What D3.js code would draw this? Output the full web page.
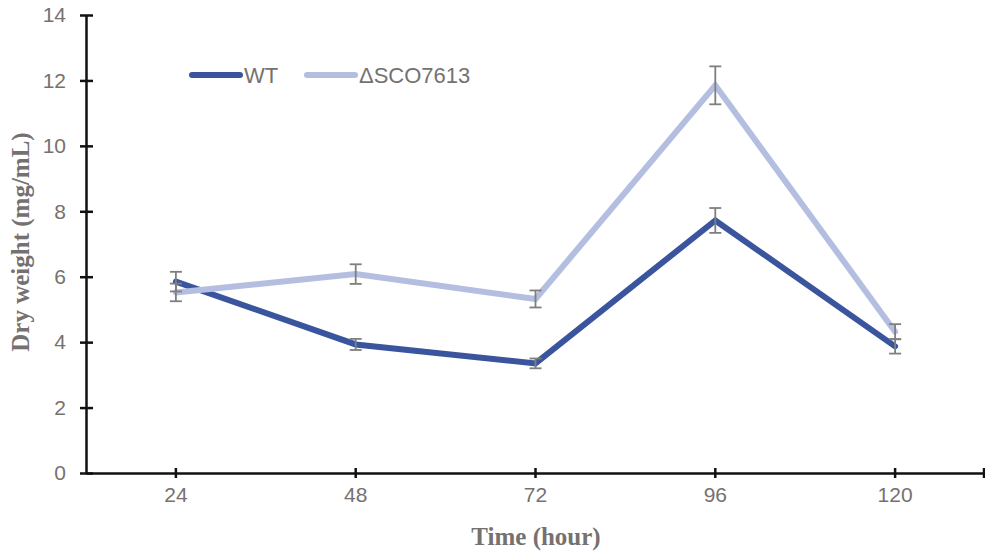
<!DOCTYPE html>
<html><head><meta charset="utf-8">
<script src="https://cdn.jsdelivr.net/npm/d3@7"></script>
<style>body{margin:0;background:#fff}</style>
</head><body>
<svg id="c" width="985" height="552"></svg>
<script>
const categories = ["24","48","72","96","120"];
const wtValues = [5.85, 3.93, 3.35, 7.72, 3.87];
const wtErrors = [0.30, 0.17, 0.15, 0.38, 0.22];
const mutValues = [5.52, 6.08, 5.32, 11.85, 4.32];
const mutErrors = [0.27, 0.30, 0.26, 0.58, 0.23];
const yTicks = [0,2,4,6,8,10,12,14];
const seriesNames = ["WT", "\u0394SCO7613"];

(function(){
const svg = d3.select("#c");
const mLeft = 86, mRight = 985, mTop = 15, mBottom = 473;
const x = d3.scaleBand().domain(categories).range([mLeft, mRight]).padding(0);
const y = d3.scaleLinear().domain([0,14]).range([mBottom, mTop]);
const cx = d => x(d) + x.bandwidth()/2;

const colors = ["#3A559D", "#B4BEE0"];
const series = [
  {name: seriesNames[0], values: wtValues, errors: wtErrors, color: colors[0]},
  {name: seriesNames[1], values: mutValues, errors: mutErrors, color: colors[1]}
];

// Y axis
const yAxis = svg.append("g").attr("transform", `translate(${mLeft},0)`)
  .call(d3.axisLeft(y).tickValues(yTicks).tickSize(0).tickPadding(20));
yAxis.select(".domain").attr("stroke", "#111").attr("stroke-width", 2.5);
yAxis.selectAll(".tick line").attr("x1", -6).attr("x2", 7).attr("stroke", "#111").attr("stroke-width", 2.5);
yAxis.selectAll(".tick text").attr("fill", "#767171").style("font-family", "Liberation Sans, Arial, sans-serif").style("font-size", "21px");

// X axis
const xAxis = svg.append("g").attr("transform", `translate(0,${mBottom})`)
  .call(d3.axisBottom(x).tickSize(0).tickPadding(14));
xAxis.select(".domain").attr("stroke", "#111").attr("stroke-width", 2.5);
xAxis.selectAll(".tick line").attr("y1", -5).attr("y2", 5).attr("stroke", "#111").attr("stroke-width", 2.5);
xAxis.selectAll(".tick text").attr("fill", "#767171").style("font-family", "Liberation Sans, Arial, sans-serif").style("font-size", "21px");
xAxis.append("line").attr("x1", mRight - 1).attr("x2", mRight - 1).attr("y1", -5).attr("y2", 5)
  .attr("stroke", "#111").attr("stroke-width", 2.5);

// Lines
const line = d3.line().x((d,i) => cx(categories[i])).y(d => y(d));
series.forEach(s => {
  svg.append("path").datum(s.values).attr("d", line)
    .attr("fill", "none").attr("stroke", s.color).attr("stroke-width", 6)
    .attr("stroke-linejoin", "miter").attr("stroke-linecap", "round");
});

// Error bars
series.forEach(s => {
  const g = svg.append("g");
  s.values.forEach((v, i) => {
    const px = cx(categories[i]);
    const y1 = y(v + s.errors[i]), y2 = y(v - s.errors[i]);
    g.append("line").attr("x1", px).attr("x2", px).attr("y1", y1).attr("y2", y2)
      .attr("stroke", "#7F7F7F").attr("stroke-width", 1.8);
    [y1, y2].forEach(yy => g.append("line").attr("x1", px - 6).attr("x2", px + 6)
      .attr("y1", yy).attr("y2", yy).attr("stroke", "#7F7F7F").attr("stroke-width", 1.8));
  });
});

// Legend
const legendPos = [{x: 189, tx: 244}, {x: 304, tx: 359}];
series.forEach((s, i) => {
  const lp = legendPos[i];
  svg.append("line").attr("x1", lp.x + 3).attr("x2", lp.x + 51).attr("y1", 75).attr("y2", 75)
    .attr("stroke", s.color).attr("stroke-width", 6).attr("stroke-linecap", "round");
  svg.append("text").attr("x", lp.tx).attr("y", 83).text(s.name)
    .attr("fill", "#767171").style("font-family", "Liberation Sans, Arial, sans-serif").style("font-size", "22px");
});

// Axis titles
svg.append("text").attr("x", 536).attr("y", 545).attr("text-anchor", "middle").text("Time (hour)")
  .attr("fill", "#767171").style("font-family", "Liberation Serif, Times New Roman, serif")
  .style("font-weight", "bold").style("font-size", "25px");
svg.append("text").attr("transform", "translate(29,242) rotate(-90)").attr("text-anchor", "middle")
  .text("Dry weight (mg/mL)")
  .attr("fill", "#767171").style("font-family", "Liberation Serif, Times New Roman, serif")
  .style("font-weight", "bold").style("font-size", "25px");
})();
</script>
</body></html>
